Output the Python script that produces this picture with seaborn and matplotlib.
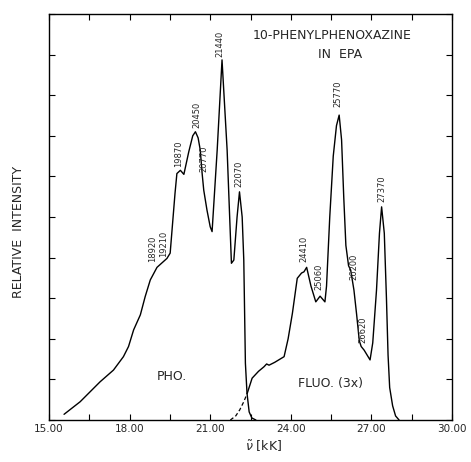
import numpy as np
import pandas as pd
import matplotlib
matplotlib.use("Agg")
import matplotlib.pyplot as plt
import seaborn as sns
from matplotlib.ticker import MultipleLocator, FixedLocator

# ---- data ----
pho_x = [15.56, 16.16, 16.90, 17.40, 17.77, 17.96, 18.15, 18.40, 18.58, 18.77, 19.02, 19.39,
         19.51, 19.57, 19.69, 19.76, 19.89, 20.02, 20.20, 20.35, 20.45, 20.55, 20.63, 20.70,
         20.76, 20.88, 21.00, 21.07, 21.26, 21.44, 21.63, 21.79, 21.88, 22.00, 22.09, 22.19,
         22.25, 22.31, 22.37, 22.45, 22.55, 22.70]
pho_y = [0.14, 0.45, 0.94, 1.23, 1.56, 1.81, 2.22, 2.59, 3.04, 3.45, 3.76, 3.98,
         4.11, 4.60, 5.58, 6.07, 6.15, 6.05, 6.60, 7.00, 7.10, 6.95, 6.65, 6.07,
         5.66, 5.17, 4.76, 4.64, 6.65, 8.87, 6.65, 3.86, 3.94, 5.00, 5.62, 5.00,
         3.94, 1.40, 0.66, 0.20, 0.05, 0.00]

fluo_dash_x = [21.75, 21.95, 22.10, 22.25, 22.38]
fluo_dash_y = [0.00, 0.10, 0.25, 0.45, 0.66]

fluo_x = [22.38, 22.56, 22.80, 23.00, 23.10, 23.19, 23.40, 23.60, 23.75, 23.90, 24.06, 24.24,
          24.40, 24.49, 24.59, 24.75, 24.93, 25.09, 25.27, 25.33, 25.45, 25.58, 25.70, 25.80,
          25.89, 25.97, 26.05, 26.15, 26.23, 26.35, 26.45, 26.55, 26.62, 26.73, 26.95, 27.05,
          27.19, 27.30, 27.38, 27.48, 27.56, 27.62, 27.68, 27.79, 27.90, 28.03]
fluo_y = [0.66, 1.03, 1.20, 1.31, 1.38, 1.35, 1.42, 1.50, 1.56, 2.00, 2.63, 3.49,
          3.62, 3.65, 3.76, 3.30, 2.91, 3.05, 2.91, 3.30, 5.00, 6.50, 7.25, 7.51,
          6.90, 5.50, 4.30, 3.80, 3.69, 3.20, 2.60, 1.95, 1.81, 1.72, 1.48, 1.90,
          3.20, 4.60, 5.25, 4.60, 3.00, 1.60, 0.80, 0.35, 0.10, 0.00]

peak_labels = ["18920", "19210", "19870", "20450", "20770", "21440", "22070",
               "24410", "25060", "25770", "26200", "26620", "27370"]
peak_lx = [18.87, 19.28, 19.84, 20.50, 20.77, 21.36, 22.07,
           24.49, 25.05, 25.76, 26.35, 26.69, 27.38]
peak_ly = [3.89, 4.01, 6.23, 7.19, 6.11, 8.94, 5.74,
           3.89, 3.20, 7.71, 3.45, 1.90, 5.37]

x_ticks = [15, 18, 21, 24, 27, 30]
x_ticklabels = ["15.00", "18.00", "21.00", "24.00", "27.00", "30.00"]

# ---- figure ----
sns.set_style("ticks")
plt.rcParams['font.family'] = ['DejaVu Sans']

fig = plt.figure(figsize=(4.71, 4.62), dpi=100)
ax = fig.add_axes([49/471, 1-420/462, 403/471, 406/462])

lw = 1.0
sns.lineplot(x=pho_x, y=pho_y, ax=ax, color="black", lw=lw, sort=False, estimator=None)
sns.lineplot(x=fluo_x, y=fluo_y, ax=ax, color="black", lw=lw, sort=False, estimator=None)
sns.lineplot(x=fluo_dash_x, y=fluo_dash_y, ax=ax, color="black", lw=0.9, sort=False,
             estimator=None, linestyle=(0, (3, 2)))

ax.set_xlim(15, 30)
ax.set_ylim(0, 10)

ax.xaxis.set_major_locator(FixedLocator(x_ticks))
ax.set_xticklabels(x_ticklabels)
ax.xaxis.set_minor_locator(MultipleLocator(1.5))
ax.yaxis.set_major_locator(MultipleLocator(1))
ax.set_yticklabels([])

ax.tick_params(axis="both", which="both", direction="in", top=True, right=True,
               length=4, width=0.8, color="black")
ax.tick_params(axis="x", which="major", labelsize=7.5, pad=3)
for s in ax.spines.values():
    s.set_linewidth(1.0)
    s.set_color("black")

for lab, lx, ly in zip(peak_labels, peak_lx, peak_ly):
    ax.text(lx, ly, lab, rotation=90, ha="center", va="bottom", fontsize=6)

ax.text(25.52, 9.48, "10-PHENYLPHENOXAZINE", ha="center", va="center", fontsize=9)
ax.text(25.83, 9.01, "IN  EPA", ha="center", va="center", fontsize=9)
ax.text(19.57, 1.07, "PHO.", ha="center", va="center", fontsize=9)
ax.text(25.46, 0.90, "FLUO. (3x)", ha="center", va="center", fontsize=9)

ax.set_ylabel("RELATIVE  INTENSITY", fontsize=9, ha="center", va="center")
ax.yaxis.set_label_coords(-0.0757, 0.463)
ax.set_xlabel(r"$\tilde{\nu}$ [kK]", fontsize=9, ha="center", va="center")
ax.xaxis.set_label_coords(0.533, -0.066)

fig.savefig("out.png", dpi=100)
